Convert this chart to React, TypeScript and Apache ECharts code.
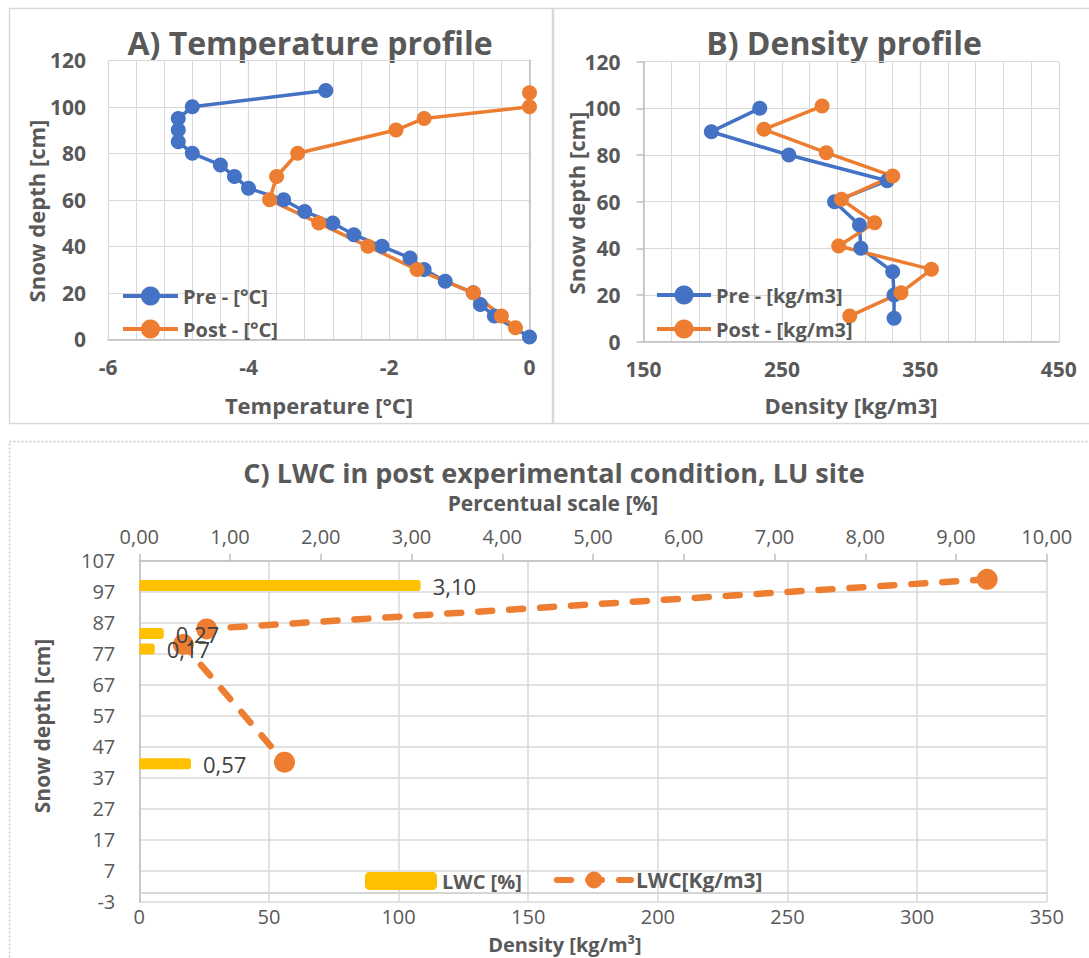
import React, { useEffect, useRef } from "react";
import * as echarts from "echarts";

// ---- A) Temperature profile ----
const preTempDepth = [107, 100, 95, 90, 85, 80, 75, 70, 65, 60, 55, 50, 45, 40, 35, 30, 25, 20, 15, 10, 1];
const preTemp = [-2.9, -4.8, -5.0, -5.0, -5.0, -4.8, -4.4, -4.2, -4.0, -3.5, -3.2, -2.8, -2.5, -2.1, -1.7, -1.5, -1.2, -0.8, -0.7, -0.5, 0];
const postTempDepth = [106, 100, 95, 90, 80, 70, 60, 50, 40, 30, 20, 10, 5];
const postTemp = [0, 0, -1.5, -1.9, -3.3, -3.6, -3.7, -3.0, -2.3, -1.6, -0.8, -0.4, -0.2];

// ---- B) Density profile ----
const preDensDepth = [100, 90, 80, 69, 60, 50, 40, 30, 20, 10];
const preDens = [234, 199, 255, 326, 288, 306, 307, 330, 331, 331];
const postDensDepth = [101, 91, 81, 71, 61, 51, 41, 31, 21, 11];
const postDens = [279, 237, 282, 330, 293, 317, 291, 358, 336, 299];

// ---- C) LWC ----
const lwcPctDepth = [99, 83.5, 78.5, 41.5];
const lwcPct = [3.1, 0.27, 0.17, 0.57];
const lwcDensDepth = [101, 85, 80, 42];
const lwcDens = [327, 26, 17, 56];

const FONT = "'Open Sans', sans-serif";
const GRAY = "#595959";
const GRID = "#d9d9d9";
const AXIS = "#bfbfbf";
const BLUE = "#4472C4";
const ORANGE = "#ED7D31";
const YELLOW = "#FFC000";

const zip = (xs: number[], ys: number[]) => xs.map((x, i) => [x, ys[i]]);
const comma2 = (v: number) => v.toFixed(2).replace(".", ",");

export default function App() {
  const ref = useRef<HTMLDivElement>(null);
  useEffect(() => {
    if (!ref.current) return;
    const chart = echarts.init(ref.current, undefined, { renderer: "svg" });

    const boldLabel = { fontFamily: FONT, fontWeight: "bold" as const, fontSize: 20, color: GRAY };
    const lineSeries = (name: string, data: number[][], color: string, xi: number, yi: number) => ({
      name,
      type: "line",
      xAxisIndex: xi,
      yAxisIndex: yi,
      data,
      symbol: "circle",
      symbolSize: 15,
      lineStyle: { width: 3.5, color },
      itemStyle: { color },
    });

    const titleText = (text: string, x: number, y: number, size: number, rot = 0) => ({
      type: "text",
      x,
      y,
      rotation: rot,
      style: {
        text,
        fill: GRAY,
        font: `bold ${size}px ${FONT}`,
        textAlign: "center",
        textVerticalAlign: "middle",
      },
    });

    const option: any = {
      animation: false,
      backgroundColor: "#ffffff",
      textStyle: { fontFamily: FONT },
      grid: [
        { left: 108, top: 60.3, width: 421.5, height: 279 },
        { left: 643.5, top: 61.7, width: 415.3, height: 280 },
        { left: 139.3, top: 560.7, width: 907.5, height: 341 },
      ],
      xAxis: [
        {
          type: "value", gridIndex: 0, min: -6, max: 0, interval: 2,
          axisLine: { show: true, lineStyle: { color: AXIS, width: 1.5 } },
          axisTick: { show: false },
          axisLabel: { ...boldLabel, fontSize: 21, margin: 17 },
          splitLine: { show: true, lineStyle: { color: GRID, width: 1.2 } },
          minorTick: { show: false, splitNumber: 5 },
          minorSplitLine: { show: true, lineStyle: { color: GRID, width: 1 } },
        },
        {
          type: "value", gridIndex: 1, min: 150, max: 450, interval: 100,
          axisLine: { show: true, lineStyle: { color: AXIS, width: 1.5 } },
          axisTick: { show: false },
          axisLabel: { ...boldLabel, fontSize: 21, margin: 17 },
          splitLine: { show: true, lineStyle: { color: GRID, width: 1.2 } },
          minorTick: { show: false, splitNumber: 5 },
          minorSplitLine: { show: true, lineStyle: { color: GRID, width: 1 } },
        },
        {
          type: "value", gridIndex: 2, min: 0, max: 350, interval: 50, position: "bottom",
          axisLine: { show: true, lineStyle: { color: AXIS, width: 1.5 } },
          axisTick: { show: false },
          axisLabel: { fontFamily: FONT, fontSize: 20, color: GRAY, margin: 5 },
          splitLine: { show: true, lineStyle: { color: GRID, width: 1.5 } },
        },
        {
          type: "value", gridIndex: 2, min: 0, max: 10, interval: 1, position: "top",
          axisLine: { show: true, onZero: false, lineStyle: { color: AXIS, width: 1.5 } },
          axisTick: { show: true, length: 7, lineStyle: { color: AXIS, width: 1.5 } },
          axisLabel: { fontFamily: FONT, fontSize: 20, color: GRAY, margin: 14, formatter: (v: number) => comma2(v) },
          splitLine: { show: false },
        },
      ],
      yAxis: [
        {
          type: "value", gridIndex: 0, min: 0, max: 120, interval: 20,
          axisLine: { show: true, lineStyle: { color: AXIS, width: 1.5 } },
          axisTick: { show: false },
          axisLabel: { ...boldLabel, fontSize: 21, margin: 22 },
          splitLine: { show: true, lineStyle: { color: GRID, width: 1.2 } },
        },
        {
          type: "value", gridIndex: 1, min: 0, max: 120, interval: 20,
          axisLine: { show: true, lineStyle: { color: AXIS, width: 1.5 } },
          axisTick: { show: true, length: 7, lineStyle: { color: AXIS, width: 1.5 } },
          axisLabel: { ...boldLabel, fontSize: 21, margin: 23 },
          splitLine: { show: true, lineStyle: { color: GRID, width: 1.2 } },
        },
        {
          type: "value", gridIndex: 2, min: -3, max: 107, interval: 10,
          axisLine: { show: true, onZero: false, lineStyle: { color: AXIS, width: 1.5 } },
          axisTick: { show: false },
          axisLabel: { fontFamily: FONT, fontSize: 20, color: GRAY, margin: 24 },
          splitLine: { show: true, lineStyle: { color: GRID, width: 1.5 } },
        },
      ],
      legend: [
        {
          data: ["Pre - [°C]", "Post - [°C]"],
          orient: "vertical", left: 116, top: 281, itemWidth: 55, itemHeight: 24, itemGap: 13,
          selectedMode: false, textStyle: boldLabel, lineStyle: { width: 4 },
        },
        {
          data: ["Pre - [kg/m3]", "Post - [kg/m3]"],
          orient: "vertical", left: 650, top: 280, itemWidth: 54, itemHeight: 24, itemGap: 14,
          selectedMode: false, textStyle: boldLabel, lineStyle: { width: 4 },
        },
        {
          data: [{ name: "LWC [%]", icon: "roundRect", itemStyle: { color: YELLOW } }],
          left: 360, top: 866, itemWidth: 72, itemHeight: 18,
          selectedMode: false, textStyle: boldLabel,
        },
        {
          data: ["LWC[Kg/m3]"],
          left: 549, top: 864.5, itemWidth: 74, itemHeight: 21,
          selectedMode: false, textStyle: { ...boldLabel, fontSize: 21 }, lineStyle: { width: 6 },
        },
      ],
      series: [
        lineSeries("Pre - [°C]", zip(preTemp, preTempDepth), BLUE, 0, 0),
        lineSeries("Post - [°C]", zip(postTemp, postTempDepth), ORANGE, 0, 0),
        lineSeries("Pre - [kg/m3]", zip(preDens, preDensDepth), BLUE, 1, 1),
        lineSeries("Post - [kg/m3]", zip(postDens, postDensDepth), ORANGE, 1, 1),
        {
          name: "LWC[Kg/m3]",
          type: "line",
          xAxisIndex: 2,
          yAxisIndex: 2,
          z: 2,
          data: zip(lwcDens, lwcDensDepth),
          symbol: "circle",
          symbolSize: 21,
          lineStyle: { width: 6.5, color: ORANGE, type: [14, 17], cap: "round" },
          itemStyle: { color: ORANGE },
          markLine: {
            silent: true,
            symbol: "none",
            label: { show: false },
            lineStyle: { color: GRID, type: "solid", width: 1.5 },
            data: [{ yAxis: 0 }],
          },
        },
        {
          name: "LWC [%]",
          type: "custom",
          xAxisIndex: 3,
          yAxisIndex: 2,
          z: 3,
          itemStyle: { color: YELLOW },
          data: zip(lwcPct, lwcPctDepth),
          renderItem: (params: any, api: any) => {
            const v = api.value(0);
            const d = api.value(1);
            const s = api.coord([0, d]);
            const e = api.coord([v, d]);
            const h = 11;
            return {
              type: "group",
              children: [
                {
                  type: "rect",
                  shape: { x: s[0], y: s[1] - h / 2, width: e[0] - s[0], height: h, r: [0, 3, 3, 0] },
                  style: { fill: YELLOW },
                },
                {
                  type: "text",
                  style: {
                    x: e[0] + 12,
                    y: s[1],
                    text: comma2(v),
                    fill: "#404040",
                    font: `22px ${FONT}`,
                    textAlign: "left",
                    textVerticalAlign: "middle",
                    verticalAlign: "middle",
                  },
                },
              ],
            };
          },
        },
      ],
      graphic: [
        { type: "rect", shape: { x: 9.5, y: 8.5, width: 543, height: 415 }, style: { fill: "none", stroke: "#d9d9d9", lineWidth: 1.5 }, silent: true },
        { type: "rect", shape: { x: 553.5, y: 8.5, width: 600, height: 415 }, style: { fill: "none", stroke: "#d9d9d9", lineWidth: 1.5 }, silent: true },
        { type: "rect", shape: { x: 9.5, y: 441.5, width: 1100, height: 600 }, style: { fill: "none", stroke: "#c8c8c8", lineWidth: 1.5, lineDash: [2, 2] }, silent: true },
        titleText("A) Temperature profile", 310, 42, 32),
        titleText("B) Density profile", 844, 42, 32),
        titleText("Snow depth [cm]", 36, 211, 22, Math.PI / 2),
        titleText("Snow depth [cm]", 576, 203, 22, Math.PI / 2),
        titleText("Temperature [°C]", 319, 405, 22),
        titleText("Density [kg/m3]", 851, 405, 22),
        titleText("C) LWC in post experimental condition, LU site", 554, 472, 27),
        titleText("Percentual scale [%]", 553, 503, 21),
        titleText("Density [kg/m³]", 565, 944, 20),
        titleText("Snow depth [cm]", 42, 726, 21, Math.PI / 2),
      ],
    };

    chart.setOption(option);
    return () => chart.dispose();
  }, []);

  return (
    <div
      ref={ref}
      style={{ position: "absolute", left: 0, top: 0, width: 1089, height: 958, background: "#fff" }}
    />
  );
}
